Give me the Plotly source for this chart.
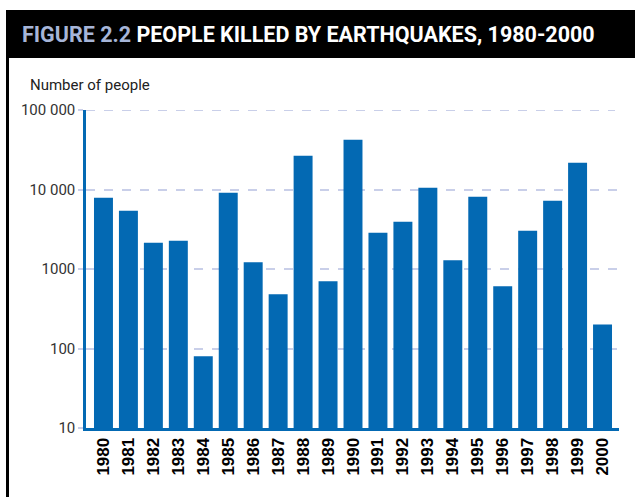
import plotly.graph_objects as go

years = [str(y) for y in range(1980, 2001)]
deaths = [7870, 5400, 2140, 2265, 80, 9080, 1215, 480, 26500, 700, 42200,
          2850, 3925, 10500, 1285, 8090, 605, 3020, 7210, 21700, 200]
y_tickvals = [10, 100, 1000, 10000, 100000]
y_ticktext = ["10", "100", "1000", "10 000", "100 000"]

title_prefix = "FIGURE 2.2"
title_main = "PEOPLE KILLED BY EARTHQUAKES, 1980-2000"
y_title = "Number of people"

W, H = 635, 497
L, R, T, B = 86, 16, 110, 69
pw, ph = W - L - R, H - T - B


def px(x):
    return (x - L) / pw


def py(y):
    return (H - B - y) / ph


BLUE = "#0369b3"
GRID = "#c9cfe9"
COND = "Roboto"

fig = go.Figure(go.Bar(x=years, y=deaths, marker=dict(color=BLUE, line=dict(width=0))))

fig.update_layout(
    width=W, height=H,
    margin=dict(l=L, r=R, t=T, b=B, pad=0),
    paper_bgcolor="white", plot_bgcolor="white",
    bargap=0.24, showlegend=False,
    xaxis=dict(
        type="category", range=[-0.7, 20.66],
        showline=True, linecolor=BLUE, linewidth=3,
        showgrid=False, ticks="", tickangle=-90,
        tickfont=dict(family="Liberation Sans", size=17, color="black", weight="bold"),
    ),
    yaxis=dict(
        type="log", range=[1, 5],
        tickvals=y_tickvals, ticktext=y_ticktext,
        showline=True, linecolor=BLUE, linewidth=2.5,
        showgrid=True, gridcolor=GRID, gridwidth=2, griddash="dash",
        ticks="outside", ticklen=5, tickcolor=GRID, tickwidth=2,
        tickfont=dict(family=COND, size=15, color="#333333"),
        zeroline=False,
    ),
    shapes=[
        dict(type="line", xref="paper", yref="y",
             x0=0, x1=px(615), y0=y_tickvals[-1], y1=y_tickvals[-1],
             line=dict(color=GRID, width=2, dash="dash"), layer="below"),
        dict(type="rect", xref="paper", yref="paper",
             x0=px(6), x1=px(640), y0=py(58), y1=py(10),
             fillcolor="black", line=dict(width=0), layer="above"),
        dict(type="line", xref="paper", yref="paper",
             x0=px(7.5), x1=px(7.5), y0=py(58), y1=py(500),
             line=dict(color="black", width=3)),
    ],
    annotations=[
        dict(xref="paper", yref="paper", x=px(20), y=py(34), xanchor="left", yanchor="middle",
             showarrow=False,
             text=f"<b><span style='color:#a6b5d8'>{title_prefix}</span> {title_main}</b>",
             font=dict(family=COND, size=21.5, color="white")),
        dict(xref="paper", yref="paper", x=px(28), y=py(85), xanchor="left", yanchor="middle",
             showarrow=False, text=y_title,
             font=dict(family=COND, size=15, color="#222222")),
    ],
)

fig.write_html("out.html", config={"displayModeBar": False},
               post_script="document.body.style.margin='0';")
